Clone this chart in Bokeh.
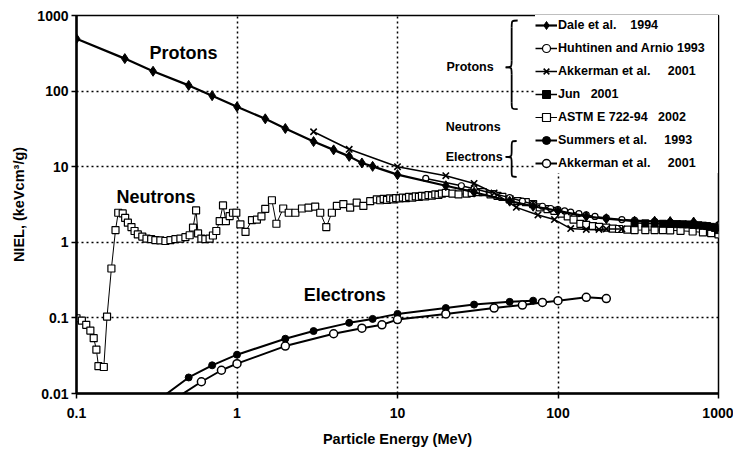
from bokeh.plotting import figure
from bokeh.models import Legend, LegendItem, Label, FixedTicker
from bokeh.embed import file_html
from bokeh.resources import INLINE

FONT = "Liberation Sans"

# ---------------- data ----------------
x_ticks = [0.1, 1, 10, 100, 1000]
x_tick_labels = ["0.1", "1", "10", "100", "1000"]
y_ticks = [0.01, 0.1, 1, 10, 100, 1000]
y_tick_labels = ["0.01", "0.1", "1", "10", "100", "1000"]

# Protons - Dale et al. 1994
dale_e = [0.1, 0.2, 0.3, 0.5, 0.7, 1, 1.5, 2, 3, 4, 5, 6, 7, 10, 20, 30, 50, 70, 100, 150,
          200, 300, 400, 500, 700, 1000]
dale_v = [493, 269, 183, 119, 87, 62, 43, 32, 21.5, 16.7, 13.7, 11.2, 10.1, 7.85, 5.6, 4.6,
          3.5, 3.0, 2.6, 2.2, 2.05, 1.9, 1.9, 1.88, 1.85, 1.65]

# Protons - Huhtinen and Arnio 1993
huh_e = [15, 25, 30, 40, 50, 60, 70, 80, 90, 100, 110, 120, 135, 150, 170, 200, 250, 300,
         400, 500, 700, 1000]
huh_v = [7.0, 5.6, 5.1, 4.4, 3.9, 3.5, 3.2, 3.0, 2.8, 2.7, 2.6, 2.5, 2.4, 2.3, 2.2, 2.1,
         2.0, 1.95, 1.9, 1.85, 1.8, 1.7]

# Protons - Akkerman et al. 2001
akp_e = [3, 5, 10, 20, 30, 40, 55, 75, 95, 120, 150, 180, 200, 250]
akp_v = [29, 17, 10, 7.6, 6.0, 4.5, 2.9, 2.3, 2.0, 1.52, 1.48, 1.48, 1.5, 1.5]

# Protons - Jun 2001
jun_e = [300, 350, 400, 450, 500, 550, 600, 650, 700, 750, 800, 850, 900, 950, 1000]
jun_v = [1.8, 1.78, 1.77, 1.76, 1.75, 1.74, 1.73, 1.72, 1.7, 1.68, 1.66, 1.64, 1.6, 1.55,
         1.45]

# Neutrons - ASTM E 722-94 2002
astm_e = [0.1, 0.108, 0.115, 0.122, 0.128, 0.133, 0.137, 0.148, 0.155, 0.165, 0.175,
          0.182, 0.194, 0.201, 0.209, 0.22, 0.23, 0.241, 0.257, 0.273, 0.292, 0.31, 0.333,
          0.358, 0.385, 0.413, 0.444, 0.477, 0.507, 0.532, 0.556, 0.572, 0.6, 0.635, 0.675,
          0.708, 0.743, 0.78, 0.818, 0.853, 0.9, 0.944, 0.99, 1.05, 1.13, 1.24, 1.33, 1.42,
          1.5, 1.65, 1.76, 1.94, 2.1, 2.31, 2.54, 2.79, 3.07, 3.3, 3.6, 3.9, 4.19, 4.6, 5.07,
          5.57, 6.13, 6.76, 7.43, 7.8, 8.2, 8.6, 9.0, 9.4, 9.8, 10.3, 10.8, 11.3, 11.8, 12.4,
          13.0, 13.6, 14.2, 14.9, 15.6, 16.4, 17.2, 18.0, 18.9, 20, 22, 24, 27, 29, 32, 34,
          38, 42, 45, 50, 56, 63, 70, 77, 86, 95, 105, 115, 125, 138, 150, 165, 180, 200,
          220, 240, 270, 300, 350, 400, 450, 500, 580, 690, 800, 900, 1000]
astm_v = [0.099, 0.092, 0.081, 0.068, 0.054, 0.038, 0.023, 0.0224, 0.104, 0.45, 1.45,
          2.46, 2.41, 2.1, 1.82, 1.59, 1.41, 1.27, 1.19, 1.12, 1.1, 1.07, 1.06, 1.04, 1.07,
          1.1, 1.12, 1.17, 1.24, 1.56, 2.64, 1.31, 1.12, 1.1, 1.12, 1.23, 1.41, 1.91, 3.07,
          1.91, 2.22, 2.46, 2.46, 1.73, 1.37, 1.97, 2.0, 2.2, 2.77, 3.6, 1.76, 2.8, 2.46,
          2.46, 2.8, 2.87, 2.97, 2.46, 1.59, 2.46, 3.03, 3.2, 2.87, 3.34, 3.03, 3.5, 3.7,
          3.6, 3.75, 3.65, 3.8, 3.7, 3.85, 3.8, 3.9, 3.85, 4.0, 3.9, 4.05, 4.0, 4.1, 4.05,
          4.2, 4.15, 4.3, 4.25, 4.4, 4.5, 4.4, 4.3, 4.4, 4.5, 4.6, 4.6, 4.3, 4.1, 4.0, 3.7,
          3.5, 3.4, 3.2, 2.9, 2.75, 2.6, 2.4, 2.2, 2.0, 1.75, 1.7, 1.64, 1.6, 1.56, 1.52,
          1.5, 1.47, 1.45, 1.45, 1.45, 1.45, 1.44, 1.42, 1.39, 1.35, 1.32, 1.27]

# Electrons - Summers et al. 1993
sum_e = [0.3, 0.5, 0.7, 1, 2, 3, 5, 7, 10, 20, 30, 50, 70]
sum_v = [0.0073, 0.0163, 0.0236, 0.0326, 0.053, 0.067, 0.086, 0.097, 0.113, 0.135, 0.15,
         0.163, 0.169]

# Electrons - Akkerman et al. 2001
ake_e = [0.4, 0.6, 0.8, 1, 2, 4, 6, 8, 10, 20, 40, 60, 80, 100, 150, 200]
ake_v = [0.0082, 0.0143, 0.0203, 0.0248, 0.0424, 0.0617, 0.073, 0.081, 0.095, 0.113,
         0.135, 0.148, 0.16, 0.169, 0.187, 0.18]

legend_labels = ["Dale et al.\u00a0\u00a0\u00a0\u00a01994",
                 "Huhtinen and Arnio 1993",
                 "Akkerman et al.\u00a0\u00a0\u00a0\u00a0\u00a02001",
                 "Jun\u00a0\u00a0\u00a02001",
                 "ASTM E 722-94\u00a0\u00a0\u00a02002",
                 "Summers et al.\u00a0\u00a0\u00a0\u00a0\u00a01993",
                 "Akkerman et al.\u00a0\u00a0\u00a0\u00a0\u00a02001"]

# ---------------- layout helpers (page pixels -> data) ----------------
FL, FR, FT, FB = 75.5, 718.0, 15.0, 394.5


def dx(px):
    return 10 ** (-1 + 4 * (px - FL) / (FR - FL))


def dy(py):
    return 10 ** (3 - 5 * (py - FT) / (FB - FT))


p = figure(width=733, height=449, x_axis_type="log", y_axis_type="log",
           x_range=(0.1, 1000), y_range=(0.01, 1000),
           output_backend="svg", toolbar_location=None,
           min_border_left=76, min_border_right=15, min_border_top=15,
           min_border_bottom=55)
p.background_fill_color = "white"
p.border_fill_color = "white"
p.outline_line_color = "black"
p.outline_line_width = 1.5

p.xaxis.ticker = FixedTicker(ticks=x_ticks)
p.yaxis.ticker = FixedTicker(ticks=y_ticks)
p.xaxis.major_label_overrides = {t: l for t, l in zip(x_ticks, x_tick_labels)}
p.yaxis.major_label_overrides = {t: l for t, l in zip(y_ticks, y_tick_labels)}
p.xgrid.ticker = FixedTicker(ticks=x_ticks)
p.ygrid.ticker = FixedTicker(ticks=y_ticks)

for ax in (p.xaxis[0], p.yaxis[0]):
    ax.axis_line_width = 2.5
    ax.axis_line_color = "black"
    ax.major_tick_line_width = 1.5
    ax.major_tick_line_color = "black"
    ax.major_tick_out = 5
    ax.major_tick_in = 0
    ax.minor_tick_line_color = None
    ax.major_label_text_font = FONT
    ax.major_label_text_font_size = "14px"
    ax.major_label_text_font_style = "bold"
    ax.major_label_text_color = "black"
    ax.axis_label_text_font = FONT
    ax.axis_label_text_font_size = "14.5px"
    ax.axis_label_text_font_style = "bold"
    ax.axis_label_text_color = "black"

p.xaxis.axis_label = "Particle Energy (MeV)"
p.yaxis.axis_label = "NIEL, (keVcm\u00b3/g)"
p.xaxis.major_label_standoff = 9
p.xaxis.axis_label_standoff = 10
p.yaxis.major_label_standoff = 3
p.yaxis.axis_label_standoff = 7

p.grid.grid_line_color = "black"
p.grid.grid_line_dash = "2 3"
p.grid.grid_line_width = 1.5

# ---------------- series ----------------
r_astm_l = p.line(astm_e, astm_v, line_color="black", line_width=1)
r_astm_s = p.scatter(astm_e, astm_v, marker="square", size=7, fill_color="white",
                     line_color="black", line_width=1.2)

r_huh_l = p.line(huh_e, huh_v, line_color="black", line_width=1.5)
r_huh_s = p.scatter(huh_e, huh_v, marker="circle", size=6, fill_color="white",
                    line_color="black", line_width=1.2)

r_akp_l = p.line(akp_e, akp_v, line_color="black", line_width=1.5)
r_akp_s = p.scatter(akp_e, akp_v, marker="x", size=9, line_color="black", line_width=1.6)

r_jun_l = p.line(jun_e, jun_v, line_color="black", line_width=1.5)
r_jun_s = p.scatter(jun_e, jun_v, marker="square", size=7, fill_color="black",
                    line_color="black")

r_dale_l = p.line(dale_e, dale_v, line_color="black", line_width=2.2)
r_dale_s = p.scatter(dale_e, dale_v, marker="diamond", size=10, fill_color="black",
                     line_color="black")

r_sum_l = p.line(sum_e, sum_v, line_color="black", line_width=2)
r_sum_s = p.scatter(sum_e, sum_v, marker="circle", size=7, fill_color="black",
                    line_color="black")

r_ake_l = p.line(ake_e, ake_v, line_color="black", line_width=2)
r_ake_s = p.scatter(ake_e, ake_v, marker="circle", size=8, fill_color="white",
                    line_color="black", line_width=1.5)

# ---------------- legend ----------------
rends = [(r_dale_l, r_dale_s), (r_huh_l, r_huh_s), (r_akp_l, r_akp_s), (r_jun_l, r_jun_s),
         (r_astm_l, r_astm_s), (r_sum_l, r_sum_s), (r_ake_l, r_ake_s)]
items = [LegendItem(label=lab, renderers=list(rr)) for lab, rr in zip(legend_labels, rends)]
legend = Legend(items=items, location="top_right", margin=0, padding=5, spacing=3,
                glyph_width=22, glyph_height=20, label_height=20, label_width=160,
                label_standoff=1, border_line_color=None, background_fill_color="white",
                background_fill_alpha=1.0, label_text_font=FONT,
                label_text_font_size="12.5px", label_text_font_style="bold",
                label_text_color="black")
p.add_layout(legend, "center")

# group labels beside legend
for txt, px, py in [("Protons", 493, 67), ("Neutrons", 500, 127), ("Electrons", 502, 157)]:
    p.add_layout(Label(x=dx(px), y=dy(py), text=txt, text_align="right",
                       text_baseline="middle", text_font=FONT, text_font_size="12.5px",
                       text_font_style="bold", text_color="black"))


def brace(x_tip, x_mid, x_end, y_top, y_tip, y_bot, r=7):
    kw = dict(line_color="black", line_width=1.8)
    p.bezier(x0=[dx(x_end)], y0=[dy(y_top)], x1=[dx(x_mid)], y1=[dy(y_top + r)],
             cx0=[dx(x_mid)], cy0=[dy(y_top)], cx1=[dx(x_mid)], cy1=[dy(y_top)], **kw)
    p.segment(x0=[dx(x_mid)], y0=[dy(y_top + r)], x1=[dx(x_mid)], y1=[dy(y_tip - r)], **kw)
    p.bezier(x0=[dx(x_mid)], y0=[dy(y_tip - r)], x1=[dx(x_tip)], y1=[dy(y_tip)],
             cx0=[dx(x_mid)], cy0=[dy(y_tip)], cx1=[dx(x_mid)], cy1=[dy(y_tip)], **kw)
    p.bezier(x0=[dx(x_tip)], y0=[dy(y_tip)], x1=[dx(x_mid)], y1=[dy(y_tip + r)],
             cx0=[dx(x_mid)], cy0=[dy(y_tip)], cx1=[dx(x_mid)], cy1=[dy(y_tip)], **kw)
    p.segment(x0=[dx(x_mid)], y0=[dy(y_tip + r)], x1=[dx(x_mid)], y1=[dy(y_bot - r)], **kw)
    p.bezier(x0=[dx(x_mid)], y0=[dy(y_bot - r)], x1=[dx(x_end)], y1=[dy(y_bot)],
             cx0=[dx(x_mid)], cy0=[dy(y_bot)], cx1=[dx(x_mid)], cy1=[dy(y_bot)], **kw)


brace(505, 511, 517, 20, 67, 109)
brace(505, 511, 516, 141, 157, 177, r=6)

# curve labels
for txt, px, py in [("Protons", 182.5, 53), ("Neutrons", 155, 197), ("Electrons", 344, 296)]:
    p.add_layout(Label(x=dx(px), y=dy(py), text=txt, text_align="center",
                       text_baseline="middle", text_font=FONT, text_font_size="18px",
                       text_font_style="bold", text_color="black"))

open("out.html", "w").write(file_html(p, INLINE))
